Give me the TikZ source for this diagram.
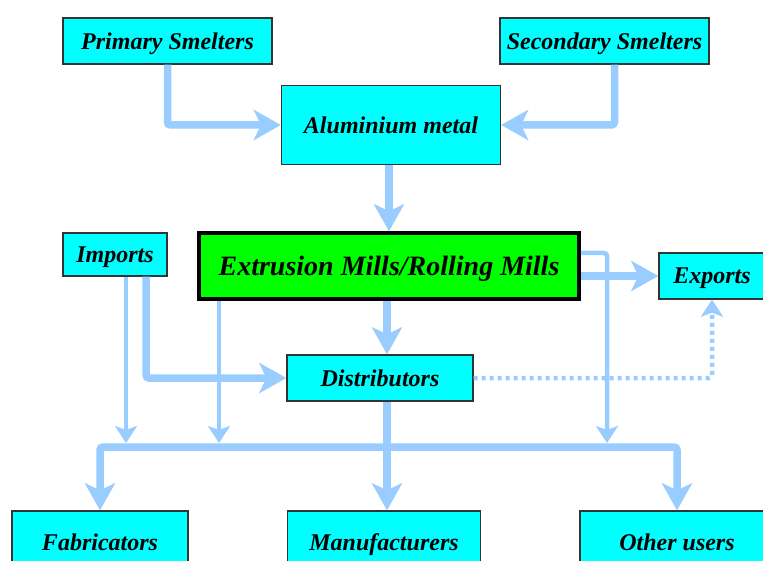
\documentclass[tikz,border=0pt]{standalone}
\usepackage{fontspec}
\setmainfont{Liberation Serif}
\usepackage{xcolor}
\usetikzlibrary{arrows.meta,positioning,calc}
\definecolor{flowblue}{RGB}{153,204,255}
\definecolor{boxcyan}{RGB}{0,255,255}
\definecolor{millgreen}{RGB}{0,255,0}

\begin{document}
\begin{tikzpicture}[
    x=1pt, y=-1pt,
    font=\bfseries\itshape\fontsize{24}{27}\selectfont,
    box/.style={rectangle, draw=black!80, line width=1.3pt, fill=boxcyan, inner sep=0pt, text depth=0pt, align=center},
    millbox/.style={box, draw=black, line width=3.5pt, fill=millgreen, font=\bfseries\itshape\fontsize{28}{31}\selectfont},
    flow/.style={draw=flowblue, line width=7.5pt, rounded corners=3pt, -{Stealth[length=27pt, width=30pt, inset=7pt]}},
    thinflow/.style={draw=flowblue, line width=4.5pt, rounded corners=3pt, -{Stealth[length=17pt, width=22pt, inset=4pt]}},
    dotflow/.style={thinflow, dash pattern=on 4pt off 4pt}
]
    \useasboundingbox (0,0) rectangle (763,561);

    % --- 1. Define Nodes First ---

    % Sources (Top)
    \node[box, minimum width=209, minimum height=46] (prim) at (167.5,41) {Primary Smelters};
    \node[box, minimum width=209, minimum height=46] (sec) at (604.5,41) {Secondary Smelters};
    \node[box, minimum width=219, minimum height=79] (alu) at (391,125) {Aluminium metal};

    % Mills and Trade (Middle)
    \node[millbox, minimum width=380, minimum height=66] (mill) at (389,266) {Extrusion Mills/Rolling Mills};
    \node[box, minimum width=104, minimum height=43] (imp) at (115,254.5) {Imports};
    \node[box, minimum width=106, minimum height=46] (exp) at (712,276) {Exports};
    \node[box, minimum width=186, minimum height=46] (dist) at (380,378) {Distributors};

    % End Users (Bottom)
    \node[box, minimum width=176, minimum height=62] (fab) at (100,542) {Fabricators};
    \node[box, minimum width=193, minimum height=62] (manu) at (384,542) {Manufacturers};
    \node[box, minimum width=194, minimum height=62] (oth) at (677,542) {Other users};

    % --- 1.5 Define Bus Points ---
    \coordinate (trunk) at (387,447);
    \coordinate (drop1) at (126,443);
    \coordinate (drop2) at (219,443);
    \coordinate (drop3) at (607,443);

    % --- 2. Connections ---
    \draw[flow] (prim.south) |- (alu.west);
    \draw[flow] ([xshift=10]sec.south) |- (alu.east);
    \draw[flow] (alu.south -| mill.north) -- (mill.north);

    \draw[flow] (mill.south -| trunk) -- (dist.north -| trunk);
    \draw[flow] (dist.south -| trunk) -- (manu.north -| trunk);
    \draw[flow] (mill.east |- exp.west) -- (exp.west);
    \draw[flow] ($(imp.south)+(31,0)$) |- (dist.west);
    \draw[dotflow] (dist.east) -| (exp.south);

    % Bus to End Users
    \draw[flow] (trunk) -| (fab.north);
    \draw[flow] (trunk) -| (oth.north);

    % Direct Drops onto the Bus
    \draw[thinflow] (imp.south -| drop1) -- (drop1);
    \draw[thinflow] (mill.south -| drop2) -- (drop2);
    \draw[thinflow] ([yshift=13]mill.east) -| (drop3);

\end{tikzpicture}
\end{document}
